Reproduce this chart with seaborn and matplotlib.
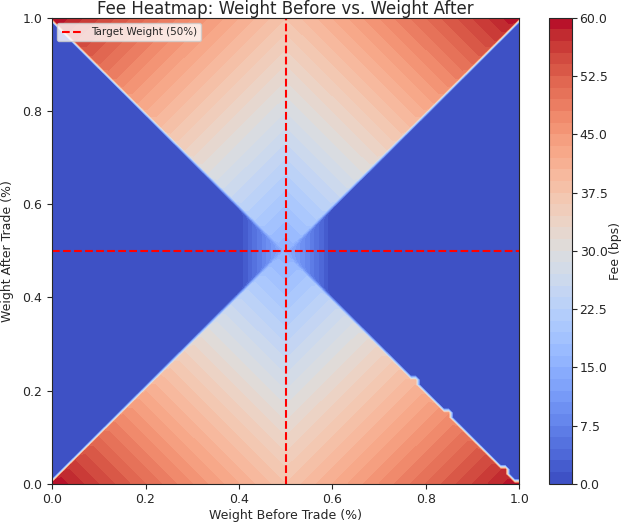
import numpy as np
import seaborn as sns
import matplotlib
matplotlib.use('Agg')
import matplotlib.pyplot as plt


# fee schedule (bps)
TARGET_WEIGHT = 0.5
BASE_FEE = 15.0
MAX_FEE = 60.0
BAND_WIDTH = 0.1

GRID_SIZE = 100
CBAR_TICKS = [0.0, 7.5, 15.0, 22.5, 30.0, 37.5, 45.0, 52.5, 60.0]


def compute_fee(before, after):
    d_before = np.abs(before - TARGET_WEIGHT)
    d_after = np.abs(after - TARGET_WEIGHT)
    slope = (MAX_FEE - BASE_FEE) / (2 * TARGET_WEIGHT)
    away_fee = BASE_FEE + slope * (d_before + d_after)
    # trades toward target are free, apart from a small band round target
    toward_fee = np.clip(BASE_FEE * (1 - d_before / BAND_WIDTH), 0, None)
    return np.where(d_after >= d_before, away_fee, toward_fee)


def main():
    sns.set_style('ticks')
    plt.rcParams['font.family'] = ['DejaVu Sans']

    weights = np.linspace(0, 1, GRID_SIZE)
    before, after = np.meshgrid(weights, weights)
    fee = compute_fee(before, after)

    fig = plt.figure(figsize=(6.21, 5.23), dpi=100)
    ax = fig.add_axes([0.084, 0.075, 0.752, 0.891])
    cax = fig.add_axes([0.884, 0.075, 0.037, 0.891])

    cmap = sns.color_palette('coolwarm', as_cmap=True)
    levels = np.linspace(0, MAX_FEE, 41)
    cf = ax.contourf(before, after, fee, levels=levels, cmap=cmap)

    ax.axvline(TARGET_WEIGHT, color='red', linestyle='--', lw=1.5,
               label='Target Weight (50%)')
    ax.axhline(TARGET_WEIGHT, color='red', linestyle='--', lw=1.5)

    ax.set_xlim(0, 1)
    ax.set_ylim(0, 1)
    ax.set_xticks(np.arange(0, 1.01, 0.2))
    ax.set_yticks(np.arange(0, 1.01, 0.2))
    ax.tick_params(labelsize=9)
    ax.set_xlabel('Weight Before Trade (%)', fontsize=9, labelpad=2)
    ax.set_ylabel('Weight After Trade (%)', fontsize=9, labelpad=6)
    ax.set_title('Fee Heatmap: Weight Before vs. Weight After',
                 fontsize=12, pad=2)
    ax.legend(loc='upper left', fontsize=7.5, frameon=True)

    cbar = fig.colorbar(cf, cax=cax, ticks=CBAR_TICKS)
    cbar.ax.tick_params(labelsize=9, pad=2)
    cbar.set_label('Fee (bps)', fontsize=9, labelpad=1)

    fig.savefig('out.png', dpi=100)
    plt.close(fig)


if __name__ == '__main__':
    main()
